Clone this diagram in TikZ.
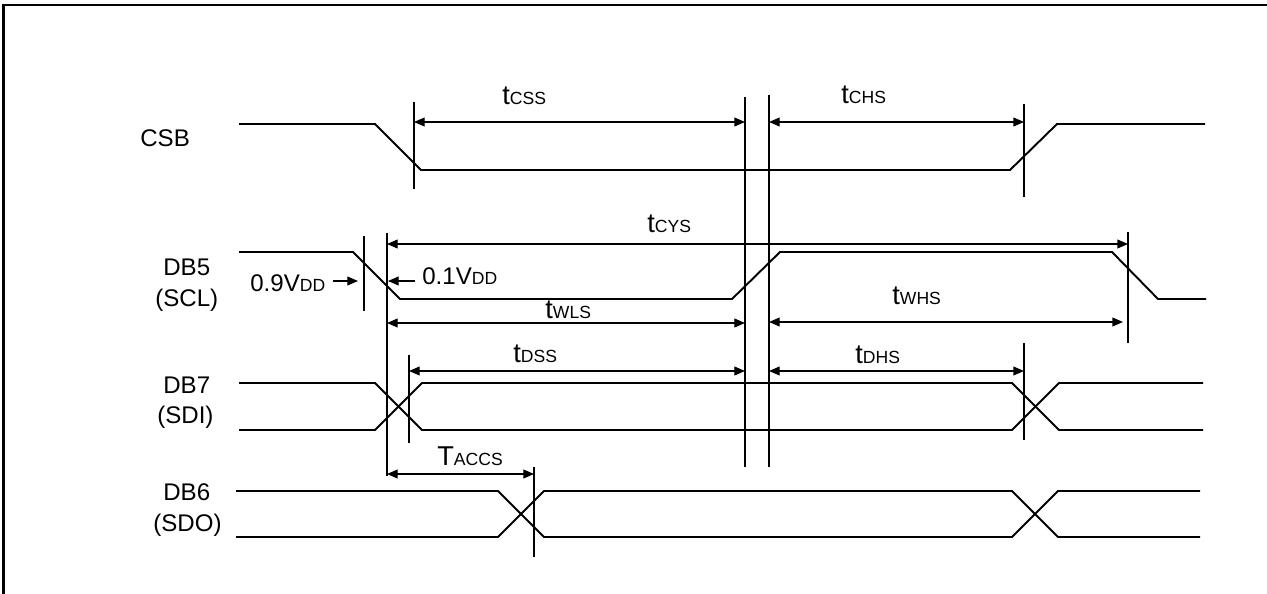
\documentclass[tikz,border=0pt]{standalone}
\usepackage{fontspec}
\setmainfont{Liberation Sans}
\usetikzlibrary{arrows.meta}

\newcommand{\lo}[1]{{\fontsize{10}{11}\selectfont #1}}

\begin{document}
\begin{tikzpicture}[
  x=0.02cm, y=-0.02cm,
  sig/.style={line width=1.1pt, line join=miter},
  guide/.style={line width=0.7pt},
  dim/.style={line width=0.6pt, {Triangle[length=6pt,width=5pt]}-{Triangle[length=6pt,width=5pt]}},
  lbl/.style={font=\fontsize{13.7}{16}\selectfont, inner sep=0pt, anchor=base west},
  tlbl/.style={lbl, font=\fontsize{15.5}{18}\selectfont},
  ]
  \useasboundingbox (0,0) rectangle (1267,594);
  % frame
  \draw[line width=1.2pt] (3.5,594) -- (3.5,5) -- (1267,5);

  % signal names
  \node[lbl] (csb) at (140,147) {CSB};
  \node[lbl] (db5) at (163,276) {DB5};
  \node[lbl] (scl) at (155,307) {(SCL)};
  \node[lbl] (db7) at (163,393) {DB7};
  \node[lbl] (sdi) at (157,423) {(SDI)};
  \node[lbl] (db6) at (163,500) {DB6};
  \node[lbl] (sdo) at (153,531) {(SDO)};

  % waveforms
  \draw[sig] (239,124) -- (375,124) -- (421,170) -- (1010,170) -- (1057,124) -- (1205,124);
  \draw[sig] (239,252) -- (353,252) -- (400,299) -- (732,299) -- (780,252) -- (1112,252) -- (1158,299) -- (1206,299);
  \draw[sig] (239,383) -- (375,383) -- (422,430) -- (1012,430) -- (1059,383) -- (1203,383);
  \draw[sig] (239,430) -- (375,430) -- (422,383) -- (1012,383) -- (1059,430) -- (1203,430);
  \draw[sig] (236,491) -- (498,491) -- (544,537) -- (1012,537) -- (1058,491) -- (1200,491);
  \draw[sig] (236,537) -- (498,537) -- (544,491) -- (1012,491) -- (1058,537) -- (1200,537);

  % reference lines
  \draw[guide] (364,236) -- (364,311);
  \draw[guide] (387,233) -- (387,476);
  \draw[guide] (409,355) -- (409,443);
  \draw[guide] (414,102) -- (414,189);
  \draw[guide] (534,467) -- (534,557);
  \draw[guide] (745,97) -- (745,467);
  \draw[guide] (769,95) -- (769,467);
  \draw[guide] (1024,104) -- (1024,197);
  \draw[guide] (1024,343) -- (1024,440);
  \draw[guide] (1128,232) -- (1128,343);

  % timings
  \draw[dim] (414,122) -- (745,122);
  \node[tlbl] (tcss) at (502,105) {t\lo{CSS}};
  \draw[dim] (769,122) -- (1024,122);
  \node[tlbl] (tchs) at (841,104) {t\lo{CHS}};
  \draw[dim] (387,244) -- (1128,244);
  \node[tlbl] (tcys) at (647,233) {t\lo{CYS}};
  \draw[dim] (387,323) -- (745,323);
  \node[tlbl] (twls) at (545,318) {t\lo{WLS}};
  \draw[dim] (769,322) -- (1123,322);
  \node[tlbl] (twhs) at (892,305) {t\lo{WHS}};
  \draw[dim] (409,371) -- (745,371);
  \node[tlbl] (tdss) at (513,362) {t\lo{DSS}};
  \draw[dim] (769,371) -- (1024,371);
  \node[tlbl] (tdhs) at (855,363) {t\lo{DHS}};
  \draw[dim] (387,474) -- (534,474);
  \node[tlbl] (tacc) at (437,465) {T\lo{ACCS}};

  % thresholds
  \node[lbl] (vhi) at (250,291.5) {0.9V\lo{DD}};
  \draw[line width=0.6pt, -{Triangle[length=6pt,width=5pt]}] (333,281) -- (358,281);
  \node[lbl] (vlo) at (422,285) {0.1V\lo{DD}};
  \draw[line width=0.6pt, -{Triangle[length=6pt,width=5pt]}] (415,281) -- (388,281);
\end{tikzpicture}
\end{document}
